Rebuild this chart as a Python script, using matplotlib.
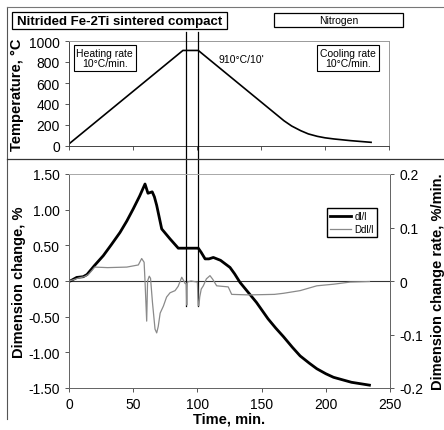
import matplotlib.pyplot as plt
import matplotlib.patches as patches
import matplotlib.transforms as mtransforms
from matplotlib.lines import Line2D

plt.rcParams["font.family"] = ["Liberation Sans", "DejaVu Sans"]
plt.rcParams["axes.unicode_minus"] = False

# Temperaturprogramm
t_temp = [0, 89, 101, 168, 174, 181, 187, 194, 200, 207, 220, 236]
temp = [20, 910, 910, 240, 190, 146, 115, 92, 78, 67, 51, 35]

# Laengenaenderung dl/l in %
t_dl = [0, 1, 6, 11, 14, 20, 26.7, 33, 39.7, 45, 50, 55, 59.2, 61.5, 64.8, 66.5, 68.3,
        72.2, 78.7, 85.1, 87, 100.7, 103, 106, 109, 112.4, 118, 125.4, 129, 133.2, 146,
        155, 161, 167, 174, 180, 187, 193, 200, 206, 220, 234]
dl = [0, 0.0, 0.05, 0.06, 0.09, 0.22, 0.355, 0.51, 0.68, 0.84, 1.01, 1.19, 1.36, 1.23,
      1.25, 1.18, 1.06, 0.73, 0.59, 0.46, 0.46, 0.46, 0.40, 0.31, 0.31, 0.33, 0.29, 0.19,
      0.10, -0.02, -0.30, -0.53, -0.66, -0.78, -0.93, -1.05, -1.15, -1.23, -1.30, -1.35,
      -1.42, -1.46]

# Aenderungsrate Ddl/l in %/min
t_rate = [0, 3, 8, 12, 15, 18, 20, 30, 45, 54, 56.6, 58.5, 59.2, 60.5, 61.2, 62.5, 63.5,
          65, 67, 68.3, 69.5, 71, 73.5, 76, 78.7, 82.6, 85, 87.8, 89, 90.5, 91.3, 91.7,
          92.1, 95, 100, 100.6, 101.2, 101.8, 103, 104.6, 107, 109.8, 112, 115, 124,
          126.7, 140, 160, 167, 180, 193, 206, 219, 234]
rate = [0, 0.002, 0.006, 0.008, 0.012, 0.02, 0.026, 0.025, 0.026, 0.030, 0.042, 0.035,
        0.0, -0.075, 0.0, 0.009, 0.005, -0.04, -0.09, -0.097, -0.085, -0.06, -0.047,
        -0.03, -0.022, -0.018, -0.01, 0.007, 0.002, -0.005, -0.005, -0.045, -0.002, 0.0,
        -0.002, -0.046, -0.046, -0.03, -0.015, -0.009, 0.004, 0.010, 0.003, -0.009,
        -0.011, -0.025, -0.026, -0.025, -0.023, -0.018, -0.009, -0.006, -0.002, -0.001]

hold_start, hold_end = 91.5, 100.8

fig = plt.figure(figsize=(4.44, 4.31), dpi=100)

# Rahmenlinien
fig.add_artist(Line2D([7 / 444, 7 / 444], [1 - 8 / 431, 1 - 420 / 431], color="#555", lw=0.8))
fig.add_artist(Line2D([7 / 444, 1], [1 - 8 / 431, 1 - 8 / 431], color="#777", lw=0.8))
fig.add_artist(Line2D([7 / 444, 1], [1 - 160 / 431, 1 - 160 / 431], color="#333", lw=0.9))

# Kopfzeilen-Kaesten
fig.add_artist(patches.Rectangle((12 / 444, 1 - 30 / 431), 215 / 444, 17 / 431,
                                 transform=fig.transFigure, fill=False, ec="k", lw=0.9))
fig.text(119.5 / 444, 1 - 21.5 / 431, "Nitrided Fe-2Ti sintered compact", ha="center",
         va="center", fontsize=9.5, fontweight="bold")
fig.add_artist(patches.Rectangle((274 / 444, 1 - 28 / 431), 129 / 444, 14 / 431,
                                 transform=fig.transFigure, fill=False, ec="k", lw=0.9))
fig.text(338.5 / 444, 1 - 21 / 431, "Nitrogen", ha="center", va="center", fontsize=7.5)

# oberes Diagramm: Temperatur
ax1 = fig.add_axes([69 / 444, 284 / 431, 320 / 444, 105 / 431])
ax1.plot(t_temp, temp, color="k", lw=1.2)
ax1.set_xlim(0, 250)
ax1.set_ylim(0, 1000)
ax1.set_xticks(range(0, 251, 50))
ax1.set_xticklabels([])
ax1.set_yticks(range(0, 1001, 200))
ax1.set_ylabel("Temperature, °C", fontsize=10.5, fontweight="bold", labelpad=4)
ax1.tick_params(labelsize=10, direction="out", length=3, width=0.7, color="#555")
for s in ax1.spines.values():
    s.set_color("#999")
    s.set_linewidth(0.7)
ax1.spines["left"].set_color("#444")
ax1.spines["bottom"].set_color("#444")
box = dict(boxstyle="square,pad=0.25", fc="white", ec="k", lw=0.8)
ax1.text(28, 838, "Heating rate\n10°C/min.", ha="center", va="center", fontsize=7.5,
         bbox=box, linespacing=1.1)
ax1.text(117, 830, "910°C/10'", ha="left", va="center", fontsize=7.5)
ax1.text(218, 838, "Cooling rate\n10°C/min.", ha="center", va="center", fontsize=7.5,
         bbox=box, linespacing=1.1)

# unteres Diagramm: Laengenaenderung
ax2 = fig.add_axes([69 / 444, 42 / 431, 321 / 444, 214 / 431])
ax3 = ax2.twinx()
l1, = ax2.plot(t_dl, dl, color="k", lw=2.0, label="dl/l", zorder=3)
l2, = ax3.plot(t_rate, rate, color="#8a8a8a", lw=0.9, label="Ddl/l")
ax2.axhline(0, color="#333", lw=0.8)
ax2.set_xlim(0, 250)
ax2.set_ylim(-1.5, 1.5)
ax3.set_ylim(-0.2, 0.2)
ax2.set_xticks(range(0, 251, 50))
ax2.set_yticks([-1.5, -1.0, -0.5, 0.0, 0.5, 1.0, 1.5])
ax2.set_yticklabels([f"{v:.2f}" for v in [-1.5, -1.0, -0.5, 0.0, 0.5, 1.0, 1.5]])
ax3.set_yticks([-0.2, -0.1, 0, 0.1, 0.2])
ax3.set_yticklabels(["-0.2", "-0.1", "0", "0.1", "0.2"])
ax2.set_xlabel("Time, min.", fontsize=10.5, fontweight="bold", labelpad=0)
ax2.set_ylabel("Dimension change, %", fontsize=10.5, fontweight="bold", labelpad=2)
ax3.set_ylabel("Dimension change rate, %/min.", fontsize=10.5, fontweight="bold", labelpad=6)
for a in (ax2, ax3):
    a.tick_params(labelsize=10, direction="out", length=3, width=0.7, color="#555")
    for s in a.spines.values():
        s.set_color("#666")
        s.set_linewidth(0.7)
    a.spines["top"].set_color("#aaa")
ax3.legend(handles=[l1, l2], loc="upper right", bbox_to_anchor=(0.975, 0.865),
           fontsize=7, frameon=True, fancybox=False, edgecolor="k", framealpha=1,
           handlelength=2.2, handletextpad=0.3, borderpad=0.35, labelspacing=0.3)

# Haltezeit: senkrechte Linien ueber beide Diagramme
trans = mtransforms.blended_transform_factory(ax2.transData, fig.transFigure)
for tx in (hold_start, hold_end):
    ax2.add_line(Line2D([tx, tx], [1 - 33 / 431, 1 - 307 / 431], transform=trans,
                        color="k", lw=0.9, clip_on=False))

fig.savefig("out.png", dpi=100)
